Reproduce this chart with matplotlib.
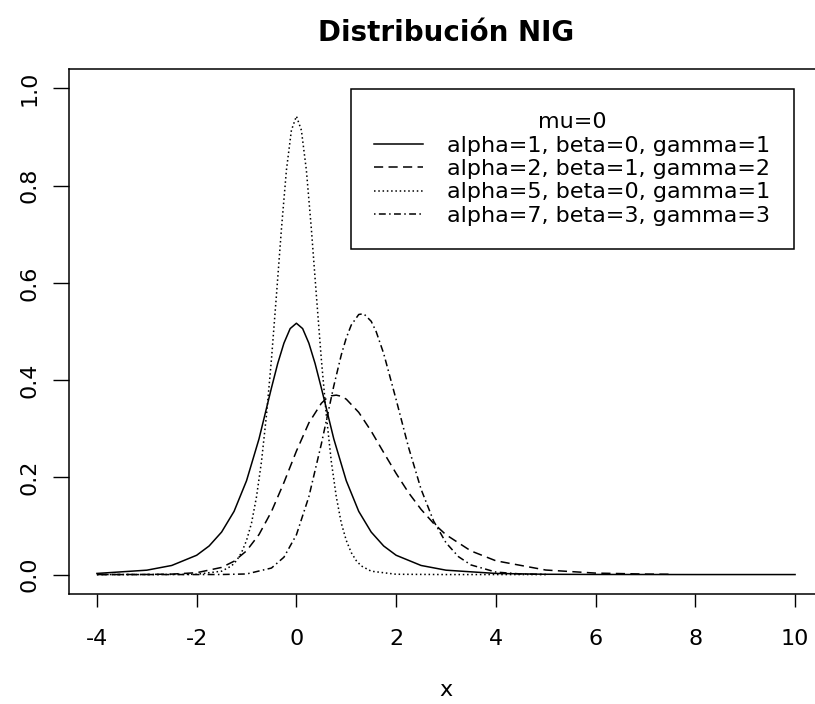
import numpy as np
import matplotlib
matplotlib.use("Agg")
import matplotlib.pyplot as plt

# values
# solid: alpha=1, beta=0, gamma=1
x1 = [-4, -3, -2.5, -2, -1.75, -1.5, -1.25, -1, -0.75, -0.5, -0.375, -0.25, -0.125, 0,
      0.125, 0.25, 0.375, 0.5, 0.75, 1, 1.25, 1.5, 1.75, 2, 2.5, 3, 4, 5, 6, 8, 10]
y1 = [0.0023, 0.0090, 0.0187, 0.0397, 0.0588, 0.0874, 0.130, 0.193, 0.279, 0.384, 0.434, 0.476, 0.506, 0.517,
      0.506, 0.476, 0.434, 0.384, 0.279, 0.193, 0.130, 0.0874, 0.0588, 0.0397, 0.0187, 0.0090, 0.0023,
      0.0006, 0.0002, 0.0, 0.0]

# dashed: alpha=2, beta=1, gamma=2
x2 = [-4, -3, -2.5, -2, -1.5, -1.25, -1, -0.75, -0.5, -0.25, 0, 0.25, 0.5, 0.6, 0.7, 0.8, 0.9, 1,
      1.25, 1.5, 1.75, 2, 2.25, 2.5, 2.75, 3, 3.5, 4, 5, 6, 7, 7.5]
y2 = [0.0, 0.0002, 0.0009, 0.0038, 0.0147, 0.0274, 0.0488, 0.0823, 0.1296, 0.1892, 0.2539, 0.3120, 0.3523,
      0.3621, 0.3677, 0.3691, 0.3667, 0.3608, 0.3337, 0.2950, 0.2511, 0.2080, 0.1683, 0.1341, 0.1054,
      0.0819, 0.0486, 0.0283, 0.0093, 0.0030, 0.0010, 0.0006]

# dotted: alpha=5, beta=0, gamma=1
x3 = [-4, -3, -2, -1.5, -1.3, -1.2, -1.1, -1, -0.9, -0.8, -0.7, -0.6, -0.5, -0.4, -0.3, -0.2, -0.1, 0,
      0.1, 0.2, 0.3, 0.4, 0.5, 0.6, 0.7, 0.8, 0.9, 1, 1.1, 1.2, 1.3, 1.5, 2, 3, 4, 5]
y3 = [0.0, 0.0, 0.0006, 0.0069, 0.0178, 0.0287, 0.0452, 0.0702, 0.1058, 0.160, 0.2325, 0.328, 0.443,
      0.575, 0.711, 0.832, 0.914, 0.943,
      0.914, 0.832, 0.711, 0.575, 0.443, 0.328, 0.2325, 0.160, 0.1058, 0.0702, 0.0452, 0.0287, 0.0178,
      0.0069, 0.0006, 0.0, 0.0, 0.0]

# dot-dash: alpha=7, beta=3, gamma=3
x4 = [-4, -2, -1.5, -1, -0.5, -0.25, 0, 0.25, 0.5, 0.75, 0.9, 1, 1.1, 1.25, 1.35, 1.5, 1.6, 1.75,
      2, 2.25, 2.5, 2.75, 3, 3.25, 3.5, 4, 4.5, 5]
y4 = [0.0, 0.0, 0.0001, 0.0012, 0.0134, 0.0357, 0.0817, 0.1601, 0.2685, 0.3881, 0.4519, 0.4867,
      0.5133, 0.535, 0.5366, 0.521, 0.4996, 0.4548, 0.3599, 0.2613, 0.1756, 0.1104, 0.0654, 0.0368,
      0.0198, 0.0051, 0.0012, 0.0002]

labels = ["alpha=1, beta=0, gamma=1", "alpha=2, beta=1, gamma=2",
          "alpha=5, beta=0, gamma=1", "alpha=7, beta=3, gamma=3"]
xticks = [-4, -2, 0, 2, 4, 6, 8, 10]
yticks = [0.0, 0.2, 0.4, 0.6, 0.8, 1.0]

plt.rcParams['font.family'] = ['DejaVu Sans']

fig = plt.figure(figsize=(8.15, 7.04), dpi=100)
# plot box runs past the right edge of the picture, like the reference
ax = fig.add_axes([69/815, 1 - 594/704, 754/815, 525/704])

lw = 1.1
ax.plot(x1, y1, color='black', lw=lw, linestyle='-', label=labels[0])
ax.plot(x2, y2, color='black', lw=lw, linestyle=(0, (6, 3.5)), label=labels[1])
ax.plot(x3, y3, color='black', lw=lw, linestyle=(0, (1, 1.8)), label=labels[2])
ax.plot(x4, y4, color='black', lw=lw, linestyle=(0, (1, 2.2, 4.5, 2.2)), label=labels[3])

ax.set_xlim(-4.56, 10.56)
ax.set_ylim(-0.04, 1.04)
ax.set_xticks(xticks)
ax.set_xticklabels([str(t) for t in xticks])
ax.set_yticks(yticks)
ax.set_yticklabels(["%.1f" % t for t in yticks], rotation=90, va='center')
ax.tick_params(axis='x', length=9.4, width=1, pad=16, labelsize=16)
ax.tick_params(axis='y', length=11.5, width=1, pad=10, labelsize=16)
for sp in ax.spines.values():
    sp.set_linewidth(1.1)

ax.set_title("Distribución NIG", fontsize=20, fontweight='bold', pad=20)
ax.set_xlabel("x", fontsize=16)
ax.xaxis.set_label_coords(0.5, (594 - 690) / 525)
ax.xaxis.label.set_va('center')

leg = ax.legend(title="mu=0", loc='upper right', bbox_to_anchor=(725/754, 505/525),
                borderaxespad=0, fontsize=16, title_fontsize=16, frameon=True,
                fancybox=False, edgecolor='black', framealpha=1,
                handlelength=2.2, handletextpad=1.1, borderpad=1.05, labelspacing=0.15)
leg.get_frame().set_linewidth(1.1)

fig.savefig("out.png", dpi=100)
